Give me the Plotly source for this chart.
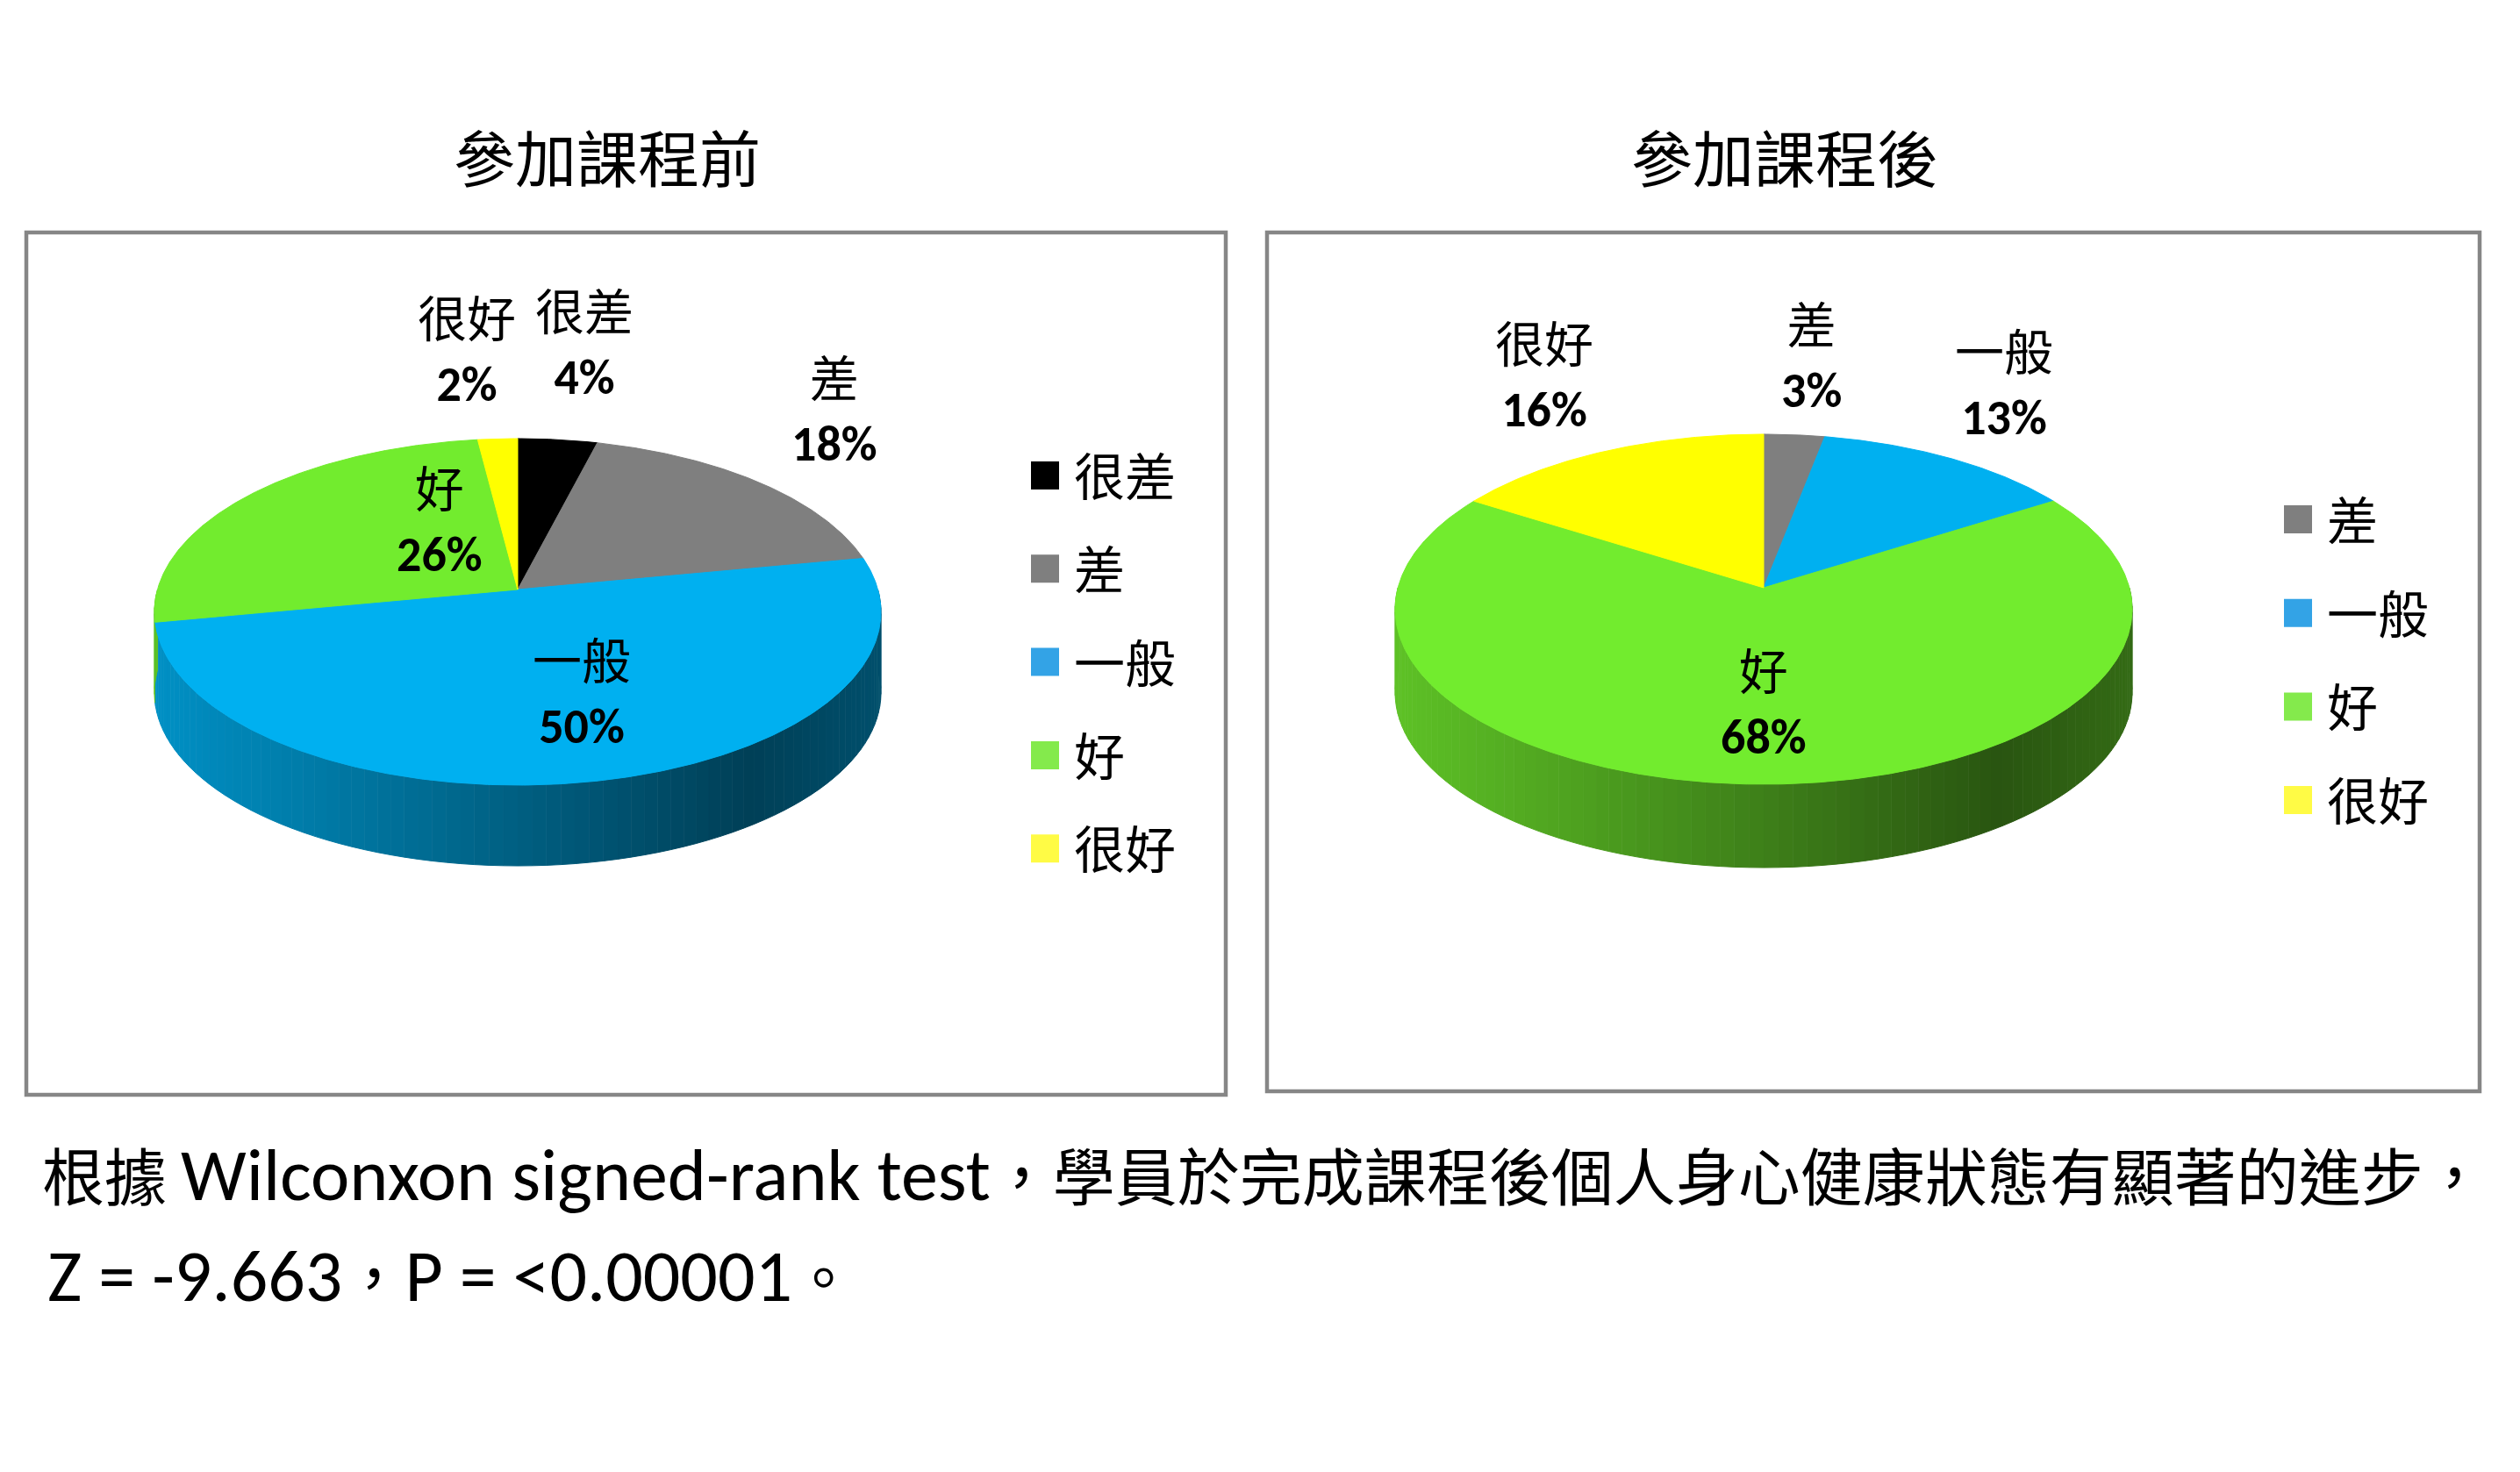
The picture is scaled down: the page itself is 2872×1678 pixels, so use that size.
import numpy as np
import plotly.graph_objects as go

# ---------------- data ----------------
categories_before = ["很差", "差", "一般", "好", "很好"]
values_before = [4, 18, 50, 26, 2]

categories_after = ["差", "一般", "好", "很好"]
values_after = [3, 13, 68, 16]

title_before = "參加課程前"
title_after = "參加課程後"
note_line1_parts = [("cjk", "根據 "), ("lat", "Wilconxon signed-rank test"),
                    ("cjk", "，學員於完成課程後個人身心健康狀態有顯著的進步，")]
note_line2_parts = [("lat", "Z = -9.663"), ("cjk", "，"), ("lat", "P = <0.00001"), ("cjk", "。")]

# ---------------- styles ----------------
W, H = 2872, 1678
slice_colors = {"很差": (0, 0, 0), "差": (127, 127, 127), "一般": (0, 176, 240),
                "好": (114, 236, 46), "很好": (255, 255, 0)}
legend_colors = {"很差": "#000000", "差": "#7F7F7F", "一般": "#33A3E6",
                 "好": "#84EA4C", "很好": "#FFFB45"}

CJK = "Noto Sans CJK TC"
LATIN = "Carlito, Lato, Noto Sans CJK TC"

# pie geometry (pixels): apex = centre of the pie as seen, top/bottom = extent of the top face
pie_before = dict(cx=590, apex=672, top=500, bottom=895, half_w=414, depth=92, cy_lab=697,
                  label_k=[(1.465, 1.545), (1.196, 1.676), (0.94, 0.49), (0.266, 0.864), (2.23, 1.495)],
                  legend_x=1191, legend_y0=542, legend_dy=106.3,
                  box=(30, 265, 1397, 1248), title_xy=(692, 177))
pie_after = dict(cx=2010, apex=670, top=495, bottom=894, half_w=420, depth=95, cy_lab=694,
                 label_k=[(1.39, 1.433), (1.161, 1.537), (0.0, 0.553), (1.235, 1.503)],
                 legend_x=2619, legend_y0=592, legend_dy=106.7,
                 box=(1444, 265, 2826, 1244), title_xy=(2034, 177))
LABEL_DY = -7


def shade(t):
    # brightness multiplier for the pie wall, t: 0 (left) -> 1 (right)
    return float(np.interp(t, [0.0, 0.82, 1.0], [0.82, 0.36, 0.45]))


def rgb(c, f=1.0):
    return "rgb(%d,%d,%d)" % tuple(int(round(min(255, v * f))) for v in c)


fig = go.Figure()
annotations = []
shapes = []


def draw_pie(cats, vals, g, title):
    cx, ap, d = g["cx"], g["apex"], g["depth"]
    r = (g["bottom"] - ap) / (ap - g["top"])
    c = (r - 1) / (r + 1)                 # perspective strength
    B = (ap - g["top"]) * (1 + c)
    A = g["half_w"] * np.sqrt(1 - c * c)
    left = cx - g["half_w"]

    def proj(th):
        th = np.radians(np.asarray(th, dtype=float))
        X, Z = np.sin(th), -np.cos(th)
        s = 1.0 / (1.0 - c * Z)
        return cx + A * X * s, ap + B * Z * s

    total = float(sum(vals))
    bounds = np.concatenate([[0.0], np.cumsum(vals) / total * 360.0])

    def slice_at(th):
        for i in range(len(vals)):
            if bounds[i] <= th < bounds[i + 1]:
                return i
        return len(vals) - 1

    # front wall, drawn as shaded strips
    grid = set(np.arange(90.0, 270.0 + 1e-9, 2.0).tolist())
    for b in bounds:
        if 90.0 < b < 270.0:
            grid.add(float(b))
    grid = sorted(grid)
    for a, b in zip(grid[:-1], grid[1:]):
        mid = 0.5 * (a + b)
        i = slice_at(mid)
        mx, _ = proj(mid)
        t = (mx - left) / (2 * g["half_w"])
        col = rgb(slice_colors[cats[i]], shade(t))
        angs = np.linspace(a, b, 3)
        tx, ty = proj(angs)
        xs = list(tx) + list(tx[::-1])
        ys = list(ty) + list(ty[::-1] + d)
        fig.add_trace(go.Scatter(x=xs, y=ys, mode="lines", fill="toself",
                                 fillcolor=col, line=dict(color=col, width=1),
                                 hoverinfo="skip", showlegend=False))

    # top face slices
    for i, (cat, v) in enumerate(zip(cats, vals)):
        a, b = bounds[i], bounds[i + 1]
        n = max(3, int((b - a) / 0.5) + 1)
        tx, ty = proj(np.linspace(a, b, n))
        xs = [cx] + list(tx) + [cx]
        ys = [ap] + list(ty) + [ap]
        col = rgb(slice_colors[cat])
        fig.add_trace(go.Scatter(x=xs, y=ys, mode="lines", fill="toself",
                                 fillcolor=col, line=dict(color=col, width=1),
                                 hoveron="fills", name=f"{cat} {v}%",
                                 text=f"{cat}: {v}%", hoverinfo="text",
                                 showlegend=False))

    # data labels
    rx = g["half_w"]
    ry = (g["bottom"] - g["top"]) / 2.0
    for i, (cat, v) in enumerate(zip(cats, vals)):
        mid = np.radians((bounds[i] + bounds[i + 1]) / 2.0)
        kx, ky = g["label_k"][i]
        lx = cx + kx * rx * np.sin(mid)
        ly = g["cy_lab"] - ky * ry * np.cos(mid) + LABEL_DY
        annotations.append(dict(
            x=lx, y=ly, xref="x", yref="y", showarrow=False,
            xanchor="center", yanchor="middle", align="center",
            text=f"<span style='font-family:{CJK}'>{cat}</span><br><b>{v}%</b>",
            font=dict(family=LATIN, size=56, color="#000000")))

    # legend (square markers + labels)
    lx = g["legend_x"]
    lys = [g["legend_y0"] + k * g["legend_dy"] for k in range(len(cats))]
    fig.add_trace(go.Scatter(x=[lx] * len(cats), y=lys, mode="markers",
                             marker=dict(symbol="square", size=32,
                                         color=[legend_colors[k] for k in cats],
                                         line=dict(width=0)),
                             hoverinfo="skip", showlegend=False))
    for cat, y in zip(cats, lys):
        annotations.append(dict(x=lx + 31, y=y - 2, xref="x", yref="y", showarrow=False,
                                xanchor="left", yanchor="middle", text=cat,
                                font=dict(family=CJK, size=58, color="#000000")))

    # frame and title
    x0, y0, x1, y1 = g["box"]
    shapes.append(dict(type="rect", xref="x", yref="y", x0=x0, y0=y0, x1=x1, y1=y1,
                       line=dict(color="#868686", width=4.5), fillcolor="rgba(0,0,0,0)",
                       layer="below"))
    tx, ty = g["title_xy"]
    annotations.append(dict(x=tx, y=ty, xref="x", yref="y", showarrow=False,
                            xanchor="center", yanchor="middle", text=title,
                            font=dict(family=CJK, size=70, color="#000000")))


draw_pie(categories_before, values_before, pie_before, title_before)
draw_pie(categories_after, values_after, pie_after, title_after)


def rich(parts, cjk_size):
    out = []
    for kind, s in parts:
        if kind == "cjk":
            out.append(f"<span style='font-family:{CJK};font-size:{cjk_size}px'>{s}</span>")
        else:
            out.append(s)
    return "".join(out)


annotations.append(dict(x=46, y=1338, xref="x", yref="y", showarrow=False,
                        xanchor="left", yanchor="middle", text=rich(note_line1_parts, 71),
                        font=dict(family=LATIN, size=84, color="#000000")))
annotations.append(dict(x=52, y=1453, xref="x", yref="y", showarrow=False,
                        xanchor="left", yanchor="middle", text=rich(note_line2_parts, 71),
                        font=dict(family=LATIN, size=84, color="#000000")))

fig.update_layout(
    width=W, height=H, autosize=False,
    margin=dict(l=0, r=0, t=0, b=0, pad=0),
    paper_bgcolor="#FFFFFF", plot_bgcolor="#FFFFFF",
    showlegend=False,
    xaxis=dict(range=[0, W], visible=False, fixedrange=True, domain=[0, 1]),
    yaxis=dict(range=[H, 0], visible=False, fixedrange=True, domain=[0, 1]),
    annotations=annotations, shapes=shapes,
)

fig.write_html("out.html")
